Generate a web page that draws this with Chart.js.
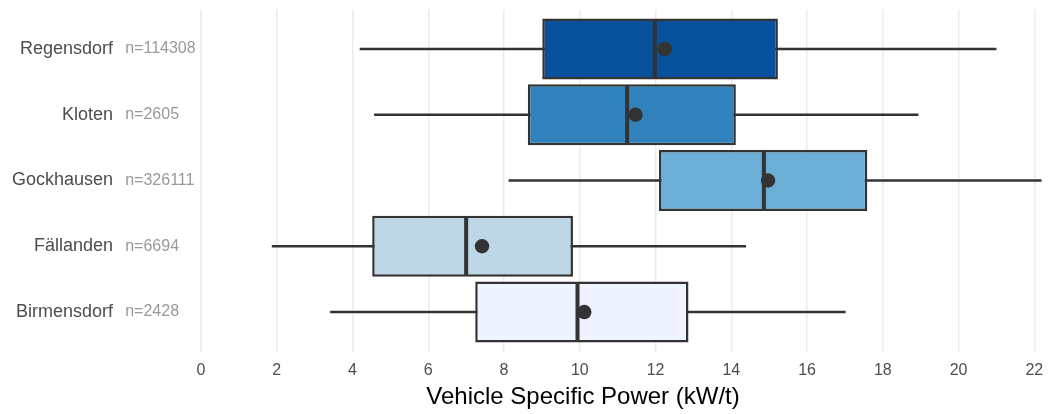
<!DOCTYPE html>
<html>
<head>
<meta charset="utf-8">
<script src="https://cdn.jsdelivr.net/npm/chart.js@4/dist/chart.umd.min.js"></script>
<style>
  html, body { margin: 0; padding: 0; background: #ffffff; }
  #wrap { width: 1054px; height: 414px; }
</style>
</head>
<body>
<div id="wrap"><canvas id="c" width="1054" height="414"></canvas></div>
<script>
// ---- data ----
const categories = ['Regensdorf', 'Kloten', 'Gockhausen', 'Fällanden', 'Birmensdorf'];
const nLabels = ['n=114308', 'n=2605', 'n=326111', 'n=6694', 'n=2428'];
const whiskerLow = [4.19, 4.57, 8.12, 1.87, 3.41];
const q1 = [9.01, 8.63, 12.09, 4.52, 7.24];
const median = [11.98, 11.25, 14.86, 7.0, 9.94];
const q3 = [15.23, 14.12, 17.59, 9.82, 12.87];
const whiskerHigh = [21.0, 18.94, 22.19, 14.39, 17.02];
const means = [12.24, 11.47, 14.97, 7.42, 10.12];
const xTicks = [0, 2, 4, 6, 8, 10, 12, 14, 16, 18, 20, 22];
const boxColors = ['#08519C', '#3182BD', '#6BAED6', '#BDD7E7', '#EFF3FF'];
const xTitle = 'Vehicle Specific Power (kW/t)';
const nLabelX = -2;

Chart.defaults.font.family = '"Liberation Sans", Arial, Helvetica, sans-serif';

const lineCol = '#333333';

const nLabelPlugin = {
  id: 'nLabels',
  afterDraw(chart) {
    const ctx = chart.ctx;
    const xs = chart.scales.x, ys = chart.scales.y;
    ctx.save();
    ctx.font = '16px "Liberation Sans", Arial, sans-serif';
    ctx.fillStyle = '#999999';
    ctx.textAlign = 'left';
    ctx.textBaseline = 'middle';
    nLabels.forEach((t, i) => {
      ctx.fillText(t, xs.getPixelForValue(nLabelX), ys.getPixelForValue(i));
    });
    ctx.restore();
  }
};

new Chart(document.getElementById('c'), {
  type: 'bar',
  data: {
    datasets: [
      {
        type: 'scatter',
        label: 'mean',
        data: categories.map((c, i) => ({ x: means[i], y: i })),
        pointRadius: 7.2,
        pointBackgroundColor: lineCol,
        pointBorderWidth: 0,
        order: 0
      },
      {
        type: 'scatter',
        label: 'median',
        data: categories.map((c, i) => ({ x: median[i], y: i })),
        pointStyle: 'line',
        rotation: 90,
        pointRadius: 29,
        pointBorderColor: lineCol,
        pointBorderWidth: 4,
        order: 1
      },
      {
        label: 'box',
        data: categories.map((c, i) => ({ x: [q1[i], q3[i]], y: i })),
        backgroundColor: boxColors,
        borderColor: lineCol,
        borderWidth: 2.5,
        borderSkipped: false,
        grouped: false,
        categoryPercentage: 1,
        barPercentage: 0.925,
        order: 2
      },
      {
        label: 'whisker',
        data: categories.map((c, i) => ({ x: [whiskerLow[i], whiskerHigh[i]], y: i })),
        backgroundColor: lineCol,
        borderWidth: 0,
        grouped: false,
        categoryPercentage: 1,
        barPercentage: 0.036,
        order: 3
      }
    ]
  },
  options: {
    indexAxis: 'y',
    responsive: false,
    animation: false,
    events: [],
    layout: { autoPadding: false, padding: { top: 9.5, right: 6, bottom: 2.5, left: 0 } },
    plugins: { legend: { display: false }, tooltip: { enabled: false } },
    scales: {
      x: {
        type: 'linear',
        position: 'bottom',
        offset: false,
        min: -2.19,
        max: 22.36,
        afterBuildTicks: (s) => { s.ticks = xTicks.map(v => ({ value: v })); },
        afterFit: (s) => { s.paddingLeft = 0; s.paddingRight = 0; s.height = 60; },
        grid: { color: '#ebebeb', lineWidth: 1.5, drawTicks: false, offset: false },
        border: { display: false },
        ticks: { color: '#4d4d4d', font: { size: 16 }, padding: 9, autoSkip: false, maxRotation: 0 },
        title: { display: true, text: xTitle, color: '#000000', font: { size: 24 }, padding: { top: 3, bottom: 0 } }
      },
      y: {
        type: 'linear',
        position: 'left',
        reverse: true,
        offset: false,
        min: -0.6,
        max: 4.6,
        afterBuildTicks: (s) => { s.ticks = categories.map((c, i) => ({ value: i })); },
        afterFit: (s) => { s.width = 118; s.paddingTop = 0; s.paddingBottom = 0; },
        grid: { display: false, drawTicks: false, offset: false },
        border: { display: false },
        ticks: {
          color: '#4d4d4d',
          font: { size: 18 },
          padding: 5,
          autoSkip: false,
          callback: (v) => categories[Math.round(v)]
        }
      }
    }
  },
  plugins: [nLabelPlugin]
});
</script>
</body>
</html>
